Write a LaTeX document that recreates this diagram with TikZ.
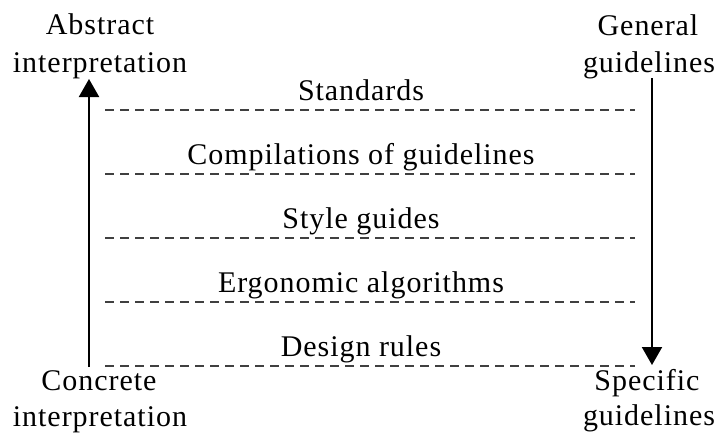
\documentclass[tikz,border=0pt]{standalone}
\usepackage{fontspec}
\setmainfont{Liberation Serif}[LetterSpace=3.2]
\usetikzlibrary{arrows.meta}

\tikzset{
  lbl/.style={anchor=base, inner sep=0pt, font=\fontsize{30}{36}\selectfont},
  guideline/.style={draw=black!75, line width=1.3pt, dash pattern=on 9pt off 6pt},
  scalearrow/.style={draw=black, line width=2pt,
    -{Triangle[length=18pt,width=20pt]}}
}

\begin{document}
\begin{tikzpicture}[x=1pt,y=-1pt]
  \useasboundingbox (0,0) rectangle (716,434);

  % corner captions
  \node[lbl] (abs1) at (100,34) {Abstract};
  \node[lbl] (abs2) at (100,72) {interpretation};
  \node[lbl] (gen1) at (648,35) {General};
  \node[lbl] (gen2) at (649,72) {guidelines};
  \node[lbl] (con1) at (99,390) {Concrete};
  \node[lbl] (con2) at (100,426) {interpretation};
  \node[lbl] (spe1) at (647,390) {Specific};
  \node[lbl] (spe2) at (649,425) {guidelines};

  % vertical scale arrows
  \coordinate (lbot) at (89,367);
  \coordinate (ltop) at (89,79);
  \coordinate (rtop) at (652,78);
  \coordinate (rbot) at (652,365);
  \draw[scalearrow] (lbot) -- (ltop);
  \draw[scalearrow] (rtop) -- (rbot);

  % levels, each with its dashed separator
  \foreach \name/\txt/\y in {
      l1/Standards/110,
      l2/Compilations of guidelines/174,
      l3/Style guides/238,
      l4/Ergonomic algorithms/302,
      l5/Design rules/366} {
    \node[lbl] (\name) at (361,\y-10) {\txt};
    \coordinate (\name a) at (105,\y);
    \coordinate (\name b) at (635,\y);
    \draw[guideline] (\name a) -- (\name b);
  }
\end{tikzpicture}
\end{document}
